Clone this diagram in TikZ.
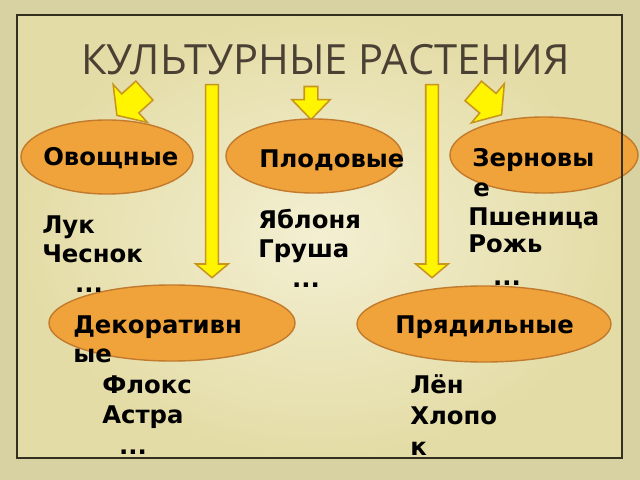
\documentclass[tikz,border=0pt]{standalone}
\usepackage{fontspec}
\setmainfont{DejaVu Sans}
\newfontfamily\titlefont{Open Sans}
\usetikzlibrary{shapes.geometric,shapes.arrows}
\definecolor{frameband}{HTML}{D8D2A2}
\definecolor{panelin}{HTML}{F3EFD2}
\definecolor{panelout}{HTML}{E4DCA6}
\definecolor{framedark}{HTML}{34301F}
\definecolor{titlegrey}{HTML}{4A4034}
\definecolor{catfill}{HTML}{F0A33A}
\definecolor{catdraw}{HTML}{C27A2C}
\definecolor{arrfill}{HTML}{FFF500}
\definecolor{arrdraw}{HTML}{C8961E}

\begin{document}
\begin{tikzpicture}[x=0.025cm,y=-0.025cm,
  cat/.style={ellipse,draw=catdraw,fill=catfill,line width=1pt,inner sep=0pt},
  blockarrow/.style={single arrow,draw=arrdraw,fill=arrfill,line width=1.1pt,inner xsep=0pt},
  longarrow/.style={blockarrow,minimum height=4.825cm,inner ysep=0.1375cm,
    single arrow head extend=0.25cm,single arrow tip angle=100},
  shortarrow/.style={blockarrow,minimum height=0.825cm,inner ysep=0.15cm,
    single arrow head extend=0.31cm,single arrow tip angle=88},
  diagarrow/.style={blockarrow,minimum height=0.925cm,inner ysep=0.3cm,
    single arrow head extend=0.32cm,single arrow tip angle=110},
  word/.style={anchor=base west,inner sep=0pt,font=\bfseries\fontsize{17.3}{21}\selectfont},
  dots/.style={word,anchor=base},
  ]
  \useasboundingbox (0,0) rectangle (640,480);
  % frame
  \fill[frameband] (0,0) rectangle (640,480);
  \shade[inner color=panelin,outer color=panelout] (17,15) rectangle (622,458);

  \node[anchor=base,inner sep=0pt,text=titlegrey,font=\titlefont\fontsize{29.6}{36}\selectfont]
    (title) at (325.5,74) {КУЛЬТУРНЫЕ РАСТЕНИЯ};

  % arrows
  \node[diagarrow,rotate=222] (arrL) at (134,100) {};
  \node[longarrow,rotate=-90] (arrA) at (212,178.5) {};
  \node[shortarrow,rotate=-90] (arrC) at (311,99.5) {};
  \node[longarrow,rotate=-90] (arrB) at (432,178.5) {};
  \node[diagarrow,rotate=-40] (arrR) at (484,100) {};

  % categories
  \node[cat,minimum width=4.3cm,minimum height=1.85cm] (ovosh) at (107,157) {};
  \node[cat,minimum width=4.4cm,minimum height=1.85cm] (plod) at (314,156) {};
  \node[cat,minimum width=4.7cm,minimum height=1.9cm] (zern) at (544,155) {};
  \node[cat,minimum width=6.15cm,minimum height=1.9cm] (dekor) at (172,323) {};
  \node[cat,minimum width=6.35cm,minimum height=1.9cm] (pryad) at (484,324) {};
  \draw[framedark,line width=2pt] (17,15) rectangle (622,458);

  \node[word] (ovoshT) at (43,165) {Овощные};
  \node[word] (plodT) at (259,167) {Плодовые};
  \node[word] (zernT) at (472,166) {Зерновы};
  \node[word] (zernT2) at (473,196) {е};
  \node[word] (dekorT) at (73,333) {Декоративн};
  \node[word] (dekorT2) at (73,362) {ые};
  \node[word] (pryadT) at (395,333) {Прядильные};

  % examples
  \foreach \w [count=\i] in {Лук,Чеснок}
    \node[word] (ov\i) at (42,204+29*\i) {\w};
  \node[dots] (ovD) at (89,292) {...};
  \foreach \w [count=\i] in {Яблоня,Груша}
    \node[word] (pl\i) at (258,199+29*\i) {\w};
  \node[dots] (plD) at (306,287) {...};
  \foreach \w [count=\i] in {Пшеница,Рожь}
    \node[word] (ze\i) at (468,198+27*\i) {\w};
  \node[dots] (zeD) at (507,285) {...};
  \foreach \w [count=\i] in {Флокс,Астра}
    \node[word] (de\i) at (102,363+30*\i) {\w};
  \node[dots] (deD) at (133,454) {...};
  \foreach \w [count=\i] in {Лён,Хлопо,к}
    \node[word] (pr\i) at (410,362+31*\i) {\w};
\end{tikzpicture}
\end{document}
